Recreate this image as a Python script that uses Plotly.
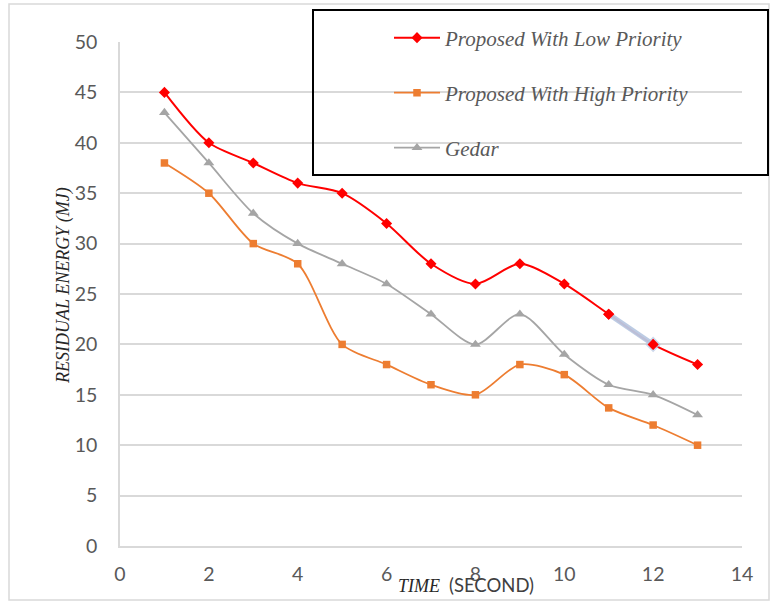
import plotly.graph_objects as go

# Residual energy over time for the three schemes
time_s = [1, 2, 3, 4, 5, 6, 7, 8, 9, 10, 11, 12, 13]
low_priority = [45, 40, 38, 36, 35, 32, 28, 26, 28, 26, 23, 20, 18]
high_priority = [38, 35, 30, 28, 20, 18, 16, 15, 18, 17, 13.7, 12, 10]
gedar = [43, 38, 33, 30, 28, 26, 23, 20, 23, 19, 16, 15, 13]

series_names = ["Proposed With Low Priority", "Proposed With High Priority", "Gedar"]
x_ticks = [0, 2, 4, 6, 8, 10, 12, 14]
y_ticks = [0, 5, 10, 15, 20, 25, 30, 35, 40, 45, 50]

L, R, T, B = 120, 28, 42, 56
W, H = 770, 602
PW, PH = W - L - R, H - T - B


def px_x(p):
    return (p - L) / PW


def px_y(p):
    return (H - B - p) / PH


GRID = "#D9D9D9"
TXT = "#595959"
SERIF = "Liberation Serif, Times New Roman, serif"
SANS = "Lato, Open Sans, sans-serif"

fig = go.Figure()

fig.add_trace(go.Scatter(
    x=time_s, y=low_priority, name=series_names[0], legend="legend",
    mode="lines+markers", line=dict(color="#FF0000", width=2, shape="spline", smoothing=0.8),
    marker=dict(symbol="diamond", size=8.5, color="#FF0000"),
))
# selected segment highlight on the red series (11 -> 12)
fig.add_trace(go.Scatter(
    x=time_s[10:12], y=low_priority[10:12], mode="lines", showlegend=False,
    line=dict(color="rgba(184,200,226,0.95)", width=5),
    hoverinfo="skip",
))
fig.add_trace(go.Scatter(
    x=time_s[11:12], y=low_priority[11:12], mode="markers", showlegend=False,
    marker=dict(symbol="diamond", size=12, color="rgba(184,200,226,0.7)"),
    hoverinfo="skip",
))
fig.add_trace(go.Scatter(
    x=time_s[10:12], y=low_priority[10:12], mode="markers", showlegend=False,
    marker=dict(symbol="diamond", size=8.5, color="#FF0000"),
    hoverinfo="skip",
))
fig.add_trace(go.Scatter(
    x=time_s, y=high_priority, name=series_names[1], legend="legend2",
    mode="lines+markers", line=dict(color="#ED7D31", width=1.8, shape="spline", smoothing=0.8),
    marker=dict(symbol="square", size=7.5, color="#ED7D31"),
))
fig.add_trace(go.Scatter(
    x=time_s, y=gedar, name=series_names[2], legend="legend3",
    mode="lines+markers", line=dict(color="#A5A5A5", width=1.8, shape="spline", smoothing=0.8),
    marker=dict(symbol="triangle-up", size=9.5, color="#A5A5A5"),
))

legend_font = dict(family=SERIF, size=21, color=TXT, style="italic")
leg_common = dict(xanchor="left", yanchor="middle", bgcolor="rgba(0,0,0,0)",
                  borderwidth=0, font=legend_font, itemwidth=46)
leg_x = px_x(389)

shapes = [
    # outer chart frame
    dict(type="rect", xref="paper", yref="paper",
         x0=px_x(9), x1=px_x(769), y0=px_y(600), y1=px_y(4),
         line=dict(color=GRID, width=1.5), layer="below"),
    # legend frame
    dict(type="rect", xref="paper", yref="paper",
         x0=px_x(313), x1=px_x(768), y0=px_y(175), y1=px_y(10),
         line=dict(color="black", width=2), layer="above"),
]

annotations = [
    dict(text="RESIDUAL ENERGY (MJ)", xref="paper", yref="paper",
         x=px_x(63), y=px_y(286), textangle=-90, showarrow=False,
         font=dict(family=SERIF, size=18, color="#262626", style="italic"),
         xanchor="center", yanchor="middle"),
    dict(text="<i>TIME</i>  <span style='font-family:Lato, Open Sans, sans-serif;font-style:normal;font-size:18.5px;fill:#404040'>(SECOND)</span>",
         xref="paper", yref="paper", x=px_x(466), y=px_y(585), showarrow=False,
         font=dict(family=SERIF, size=18, color="#262626"),
         xanchor="center", yanchor="middle"),
]

fig.update_layout(
    width=W, height=H,
    margin=dict(l=L, r=R, t=T, b=B),
    paper_bgcolor="white", plot_bgcolor="white",
    showlegend=True,
    legend=dict(x=leg_x, y=px_y(38), **leg_common),
    legend2=dict(x=leg_x, y=px_y(93), **leg_common),
    legend3=dict(x=leg_x, y=px_y(148), **leg_common),
    shapes=shapes,
    annotations=annotations,
    xaxis=dict(range=[0, 14], tickvals=x_ticks, ticktext=[str(v) for v in x_ticks],
               showgrid=False, zeroline=False, showline=True, linecolor=GRID, linewidth=1.5,
               ticks="", ticklabelstandoff=10,
               tickfont=dict(family=SANS, size=19.5, color=TXT)),
    yaxis=dict(range=[0, 50], tickvals=y_ticks, ticktext=[str(v) for v in y_ticks],
               showgrid=True, gridcolor=GRID, gridwidth=1.5, zeroline=False,
               showline=True, linecolor=GRID, linewidth=1.5,
               ticks="", ticklabelstandoff=17,
               tickfont=dict(family=SANS, size=19.5, color=TXT)),
)

fig.write_html("out.html")
